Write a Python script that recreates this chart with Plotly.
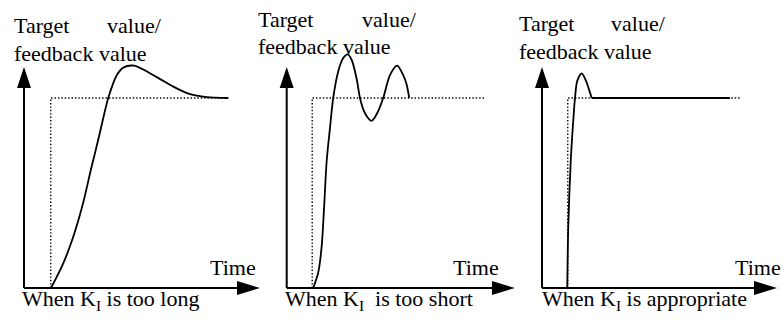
import plotly.graph_objects as go

# ---------------- data (time units / value units, target value = 1) ----------------
panel_names = ["too_long", "too_short", "appropriate"]
step_time = [1.07, 1.02, 1.03]          # moment the target value steps up
target_value = [1.0, 1.0, 1.0]
target_end = [8.17, 7.93, 7.92]         # end of dotted target line
x_axis_tip = [9.44, 9.13, 9.40]
y_axis_tip = [1.163, 1.163, 1.163]

# Panel 1: KI too long (slow rise, one broad overshoot)
fb1_t = [1.08, 1.57, 1.97, 2.37, 2.67, 2.84, 3.04, 3.37, 3.71, 3.97, 4.41, 5.31, 5.97, 6.64, 7.31, 8.17]
fb1_v = [0.00, 0.13, 0.27, 0.45, 0.62, 0.71, 0.82, 1.00, 1.12, 1.16, 1.17, 1.11, 1.06, 1.02, 1.005, 1.00]

# Panel 2: KI too short (fast rise, oscillation)
fb2_t = [1.06, 1.26, 1.40, 1.49, 1.60, 1.73, 1.86, 2.06, 2.26, 2.44, 2.60, 2.80, 2.93, 3.13, 3.40, 3.62,
         3.86, 4.13, 4.42, 4.66, 4.80, 4.90]
fb2_v = [0.00, 0.08, 0.22, 0.41, 0.67, 0.84, 1.00, 1.14, 1.21, 1.23, 1.20, 1.10, 1.00, 0.92, 0.88, 0.92,
         1.00, 1.12, 1.17, 1.12, 1.07, 1.00]

# Panel 3: KI appropriate (fast rise, small overshoot, settles)
fb3_t = [1.01, 1.05, 1.15, 1.25, 1.32, 1.41, 1.59, 1.76, 1.89, 1.99]
fb3_v = [0.00, 0.32, 0.67, 0.88, 1.00, 1.09, 1.13, 1.09, 1.04, 1.00]
fb3_flat_t = [1.99, 7.52]
fb3_flat_v = [1.0, 1.0]

y_label_line1_left = "Target"
y_label_line1_right = "value/"
y_label_line2 = "feedback value"
x_label = "Time"
captions = ["When K<sub>I</sub> is too long",
            "When K<sub>I</sub>&nbsp; is too short",
            "When K<sub>I</sub> is appropriate"]

# ---------------- layout / styling ----------------
W, H = 782, 320
FONT = "Liberation Serif"
FS = 22
PPU = 25.0                      # pixels per time unit
origins = [24.0, 286.7, 542.0]  # pixel position of each y axis
X_MIN, X_MAX = -0.5, 9.6
Y_RANGE = [(288 - 320) / 190.0, 288 / 190.0]

fig = go.Figure()
layout = dict(width=W, height=H, margin=dict(l=0, r=0, t=0, b=0),
              paper_bgcolor="white", plot_bgcolor="rgba(0,0,0,0)",
              showlegend=False, font=dict(family=FONT, size=FS, color="black"))

curves = [[(fb1_t, fb1_v)], [(fb2_t, fb2_v)], [(fb3_t, fb3_v)]]
flat_parts = [None, None, (fb3_flat_t, fb3_flat_v)]

shapes = []
for i in range(3):
    n = "" if i == 0 else str(i + 1)
    xa, ya = "x" + n, "y" + n
    o = origins[i]
    left = (o + X_MIN * PPU) / W
    right = min(1.0, (o + X_MAX * PPU) / W)
    layout["xaxis" + n] = dict(domain=[left, right], range=[X_MIN, X_MAX], visible=False,
                               anchor=ya, fixedrange=True)
    layout["yaxis" + n] = dict(domain=[0, 1], range=Y_RANGE, visible=False,
                               anchor=xa, fixedrange=True)
    # axes lines
    fig.add_trace(go.Scatter(x=[0, x_axis_tip[i] - 0.4], y=[0, 0], mode="lines",
                             line=dict(color="black", width=2), xaxis=xa, yaxis=ya,
                             hoverinfo="skip"))
    fig.add_trace(go.Scatter(x=[0, 0], y=[0, y_axis_tip[i] - 0.05], mode="lines",
                             line=dict(color="black", width=2), xaxis=xa, yaxis=ya,
                             hoverinfo="skip"))
    # arrow heads
    shapes.append(dict(type="path", xref=xa, yref=ya, xsizemode="pixel", ysizemode="pixel",
                       xanchor=x_axis_tip[i], yanchor=0, path="M0,0L-23,7L-23,-7Z",
                       fillcolor="black", line=dict(width=0)))
    shapes.append(dict(type="path", xref=xa, yref=ya, xsizemode="pixel", ysizemode="pixel",
                       xanchor=0, yanchor=y_axis_tip[i], path="M0,0L-7,-21L7,-21Z",
                       fillcolor="black", line=dict(width=0)))
    # target (dotted step)
    fig.add_trace(go.Scatter(x=[step_time[i], step_time[i], target_end[i]],
                             y=[0, target_value[i], target_value[i]], mode="lines",
                             line=dict(color="black", width=1.4, dash="1.4px,2px"),
                             xaxis=xa, yaxis=ya, hoverinfo="skip"))
    # feedback curve
    for (tt, vv) in curves[i]:
        fig.add_trace(go.Scatter(x=tt, y=vv, mode="lines",
                                 line=dict(color="black", width=1.8, shape="spline", smoothing=0.8),
                                 xaxis=xa, yaxis=ya, hoverinfo="skip"))
    if flat_parts[i] is not None:
        tt, vv = flat_parts[i]
        fig.add_trace(go.Scatter(x=tt, y=vv, mode="lines",
                                 line=dict(color="black", width=1.8),
                                 xaxis=xa, yaxis=ya, hoverinfo="skip"))

layout["shapes"] = shapes


def ann(text, x, y_base, anchor="left"):
    return dict(text=text, x=x / W, y=1 - (y_base - 7.4) / H, xref="paper", yref="paper",
                xanchor=anchor, yanchor="middle", showarrow=False, borderpad=0,
                font=dict(family=FONT, size=FS, color="black"))


annotations = []
# y labels
title_pos = [(12.7, 163.0, 33.0, 61.0), (256.7, 418.3, 26.7, 54.3), (517.7, 666.7, 31.0, 59.3)]
for (xl, xr, b1, b2) in title_pos:
    annotations.append(ann(y_label_line1_left, xl, b1, "left"))
    annotations.append(ann(y_label_line1_right, xr, b1, "right"))
    annotations.append(ann(y_label_line2, xl, b2, "left"))
# x labels
for xr in [257.0, 500.0, 781.7]:
    annotations.append(ann(x_label, xr, 275.0, "right"))
# captions
for xl, cap in zip([21.0, 284.0, 541.0], captions):
    annotations.append(ann(cap, xl, 307.0, "left"))

layout["annotations"] = annotations
fig.update_layout(**layout)
fig.write_html("out.html", config={"displayModeBar": False},
               post_script="document.body.style.margin='0';document.body.style.overflow='hidden';")
